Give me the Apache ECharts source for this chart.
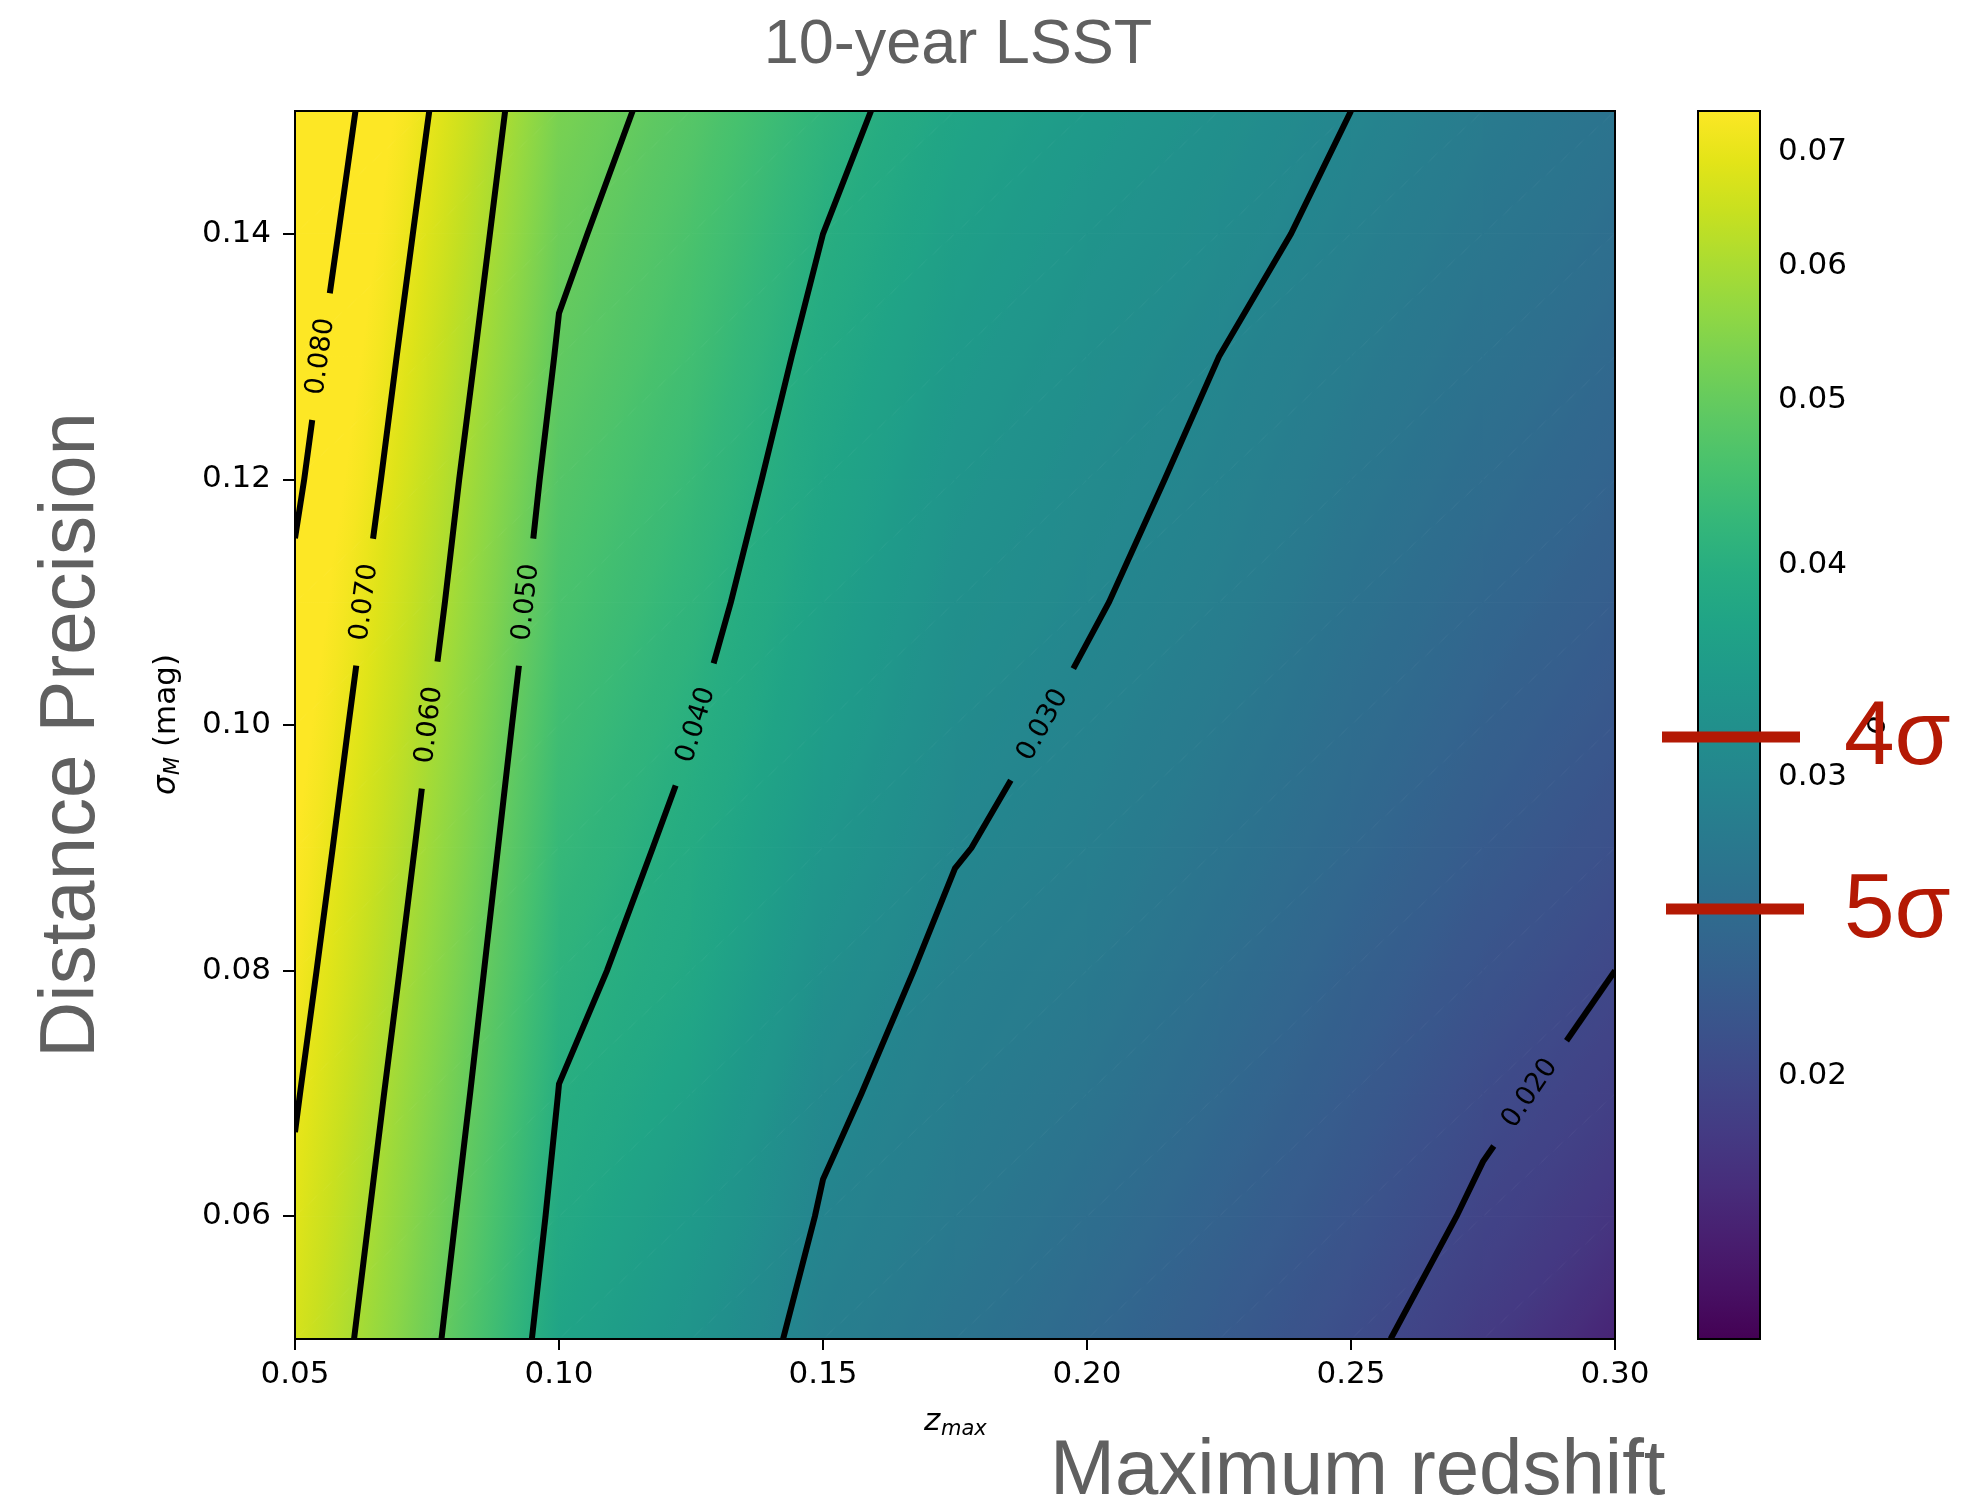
<!DOCTYPE html>
<html><head><meta charset="utf-8">
<script src="https://cdn.jsdelivr.net/npm/echarts@6/dist/echarts.min.js"></script>
<style>html,body{margin:0;padding:0;background:#fff}#chart{width:1988px;height:1510px}</style>
</head><body><div id="chart"></div>
<script>
// ---------------- data ----------------
const xGrid = [0.05, 0.075, 0.10, 0.125, 0.15, 0.175, 0.20, 0.225, 0.25, 0.275, 0.30];
const yGrid = [0.05, 0.06, 0.07, 0.08, 0.09, 0.10, 0.11, 0.12, 0.13, 0.14, 0.15];
// values on each row (sigma_M = yGrid[j]), one entry per zmax in xGrid
const row050 = [0.0668, 0.0516, 0.0370, 0.0330, 0.0287, 0.0265, 0.0244, 0.0225, 0.0206, 0.0186, 0.0165];
const row060 = [0.0687, 0.0532, 0.0385, 0.0346, 0.0297, 0.0275, 0.0255, 0.0235, 0.0216, 0.0196, 0.0180];
const row070 = [0.0706, 0.0549, 0.0399, 0.0362, 0.0307, 0.0283, 0.0266, 0.0245, 0.0225, 0.0205, 0.0191];
const row080 = [0.0726, 0.0567, 0.0412, 0.0379, 0.0322, 0.0290, 0.0276, 0.0255, 0.0234, 0.0215, 0.0200];
const row090 = [0.0746, 0.0585, 0.0427, 0.0389, 0.0337, 0.0302, 0.0286, 0.0265, 0.0244, 0.0225, 0.0210];
const row100 = [0.0766, 0.0603, 0.0443, 0.0402, 0.0352, 0.0312, 0.0294, 0.0275, 0.0253, 0.0234, 0.0219];
const row110 = [0.0787, 0.0622, 0.0460, 0.0416, 0.0363, 0.0322, 0.0303, 0.0285, 0.0262, 0.0243, 0.0228];
const row120 = [0.0812, 0.0640, 0.0476, 0.0430, 0.0374, 0.0333, 0.0310, 0.0293, 0.0271, 0.0252, 0.0237];
const row130 = [0.0834, 0.0660, 0.0494, 0.0445, 0.0386, 0.0345, 0.0320, 0.0300, 0.0280, 0.0261, 0.0246];
const row140 = [0.0858, 0.0681, 0.0511, 0.0460, 0.0400, 0.0358, 0.0332, 0.0312, 0.0290, 0.0270, 0.0255];
const row150 = [0.0882, 0.0703, 0.0529, 0.0477, 0.0416, 0.0372, 0.0345, 0.0322, 0.0300, 0.0279, 0.0264];
const Z = [row050, row060, row070, row080, row090, row100, row110, row120, row130, row140, row150];

const contourLevels = [0.02, 0.03, 0.04, 0.05, 0.06, 0.07, 0.08];
const contourLabelY = [0.070, 0.100, 0.100, 0.110, 0.100, 0.110, 0.130];
const xTicks = [0.05, 0.10, 0.15, 0.20, 0.25, 0.30];
const yTicks = [0.06, 0.08, 0.10, 0.12, 0.14];
const cbarTicks = [0.02, 0.03, 0.04, 0.05, 0.06, 0.07];
const cbarMin = 0.014, cbarMax = 0.074;

// ---------------- colour map ----------------
const viridis = ['#440154','#471164','#481F70','#472D7B','#443A83','#404688','#3B528B','#365D8D','#31688E','#2C728E','#287C8E','#24868E','#21908C','#1F9A8A','#20A486','#27AD81','#35B779','#47C16E','#5DC863','#75D054','#8FD744','#AADC32','#C7E020','#E3E418','#FDE725'];
const VIR = viridis.map(h => [parseInt(h.slice(1,3),16), parseInt(h.slice(3,5),16), parseInt(h.slice(5,7),16)]);
const LMIN = Math.log10(cbarMin), LMAX = Math.log10(cbarMax);
function colorT(t){
  t = Math.max(0, Math.min(1, t));
  const f = t * (VIR.length - 1);
  const k = Math.min(Math.floor(f), VIR.length - 2);
  const u = f - k, a = VIR[k], b = VIR[k+1];
  return 'rgb(' + [0,1,2].map(c => Math.round(a[c] + (b[c]-a[c])*u)).join(',') + ')';
}
function colorOf(v){ return colorT((Math.log10(v) - LMIN) / (LMAX - LMIN)); }

// ---------------- contours (marching squares) ----------------
function contourLinesFor(level){
  const segs = [];
  for (let j = 0; j < yGrid.length - 1; j++) for (let i = 0; i < xGrid.length - 1; i++){
    const v00 = Z[j][i], v10 = Z[j][i+1], v11 = Z[j+1][i+1], v01 = Z[j+1][i];
    const edges = [
      [v00, v10, [xGrid[i], yGrid[j]], [xGrid[i+1], yGrid[j]], 'h'+i+'_'+j],
      [v10, v11, [xGrid[i+1], yGrid[j]], [xGrid[i+1], yGrid[j+1]], 'v'+(i+1)+'_'+j],
      [v01, v11, [xGrid[i], yGrid[j+1]], [xGrid[i+1], yGrid[j+1]], 'h'+i+'_'+(j+1)],
      [v00, v01, [xGrid[i], yGrid[j]], [xGrid[i], yGrid[j+1]], 'v'+i+'_'+j]
    ];
    const cr = [];
    for (const [a, b, pa, pb, key] of edges){
      if ((a >= level) !== (b >= level)){
        const t = (level - a) / (b - a);
        cr.push({key, p: [pa[0] + t*(pb[0]-pa[0]), pa[1] + t*(pb[1]-pa[1])]});
      }
    }
    if (cr.length === 2) segs.push([cr[0], cr[1]]);
    else if (cr.length === 4){
      const c = (v00+v10+v11+v01)/4;
      if ((c >= level) === (v00 >= level)){ segs.push([cr[0], cr[1]]); segs.push([cr[2], cr[3]]); }
      else { segs.push([cr[0], cr[3]]); segs.push([cr[1], cr[2]]); }
    }
  }
  const byKey = {};
  segs.forEach((s, idx) => s.forEach(e => { (byKey[e.key] = byKey[e.key] || []).push(idx); }));
  const used = segs.map(() => false);
  const lines = [];
  const order = segs.map((s, idx) => idx).sort((a, b) => {
    const ea = Math.min(byKey[segs[a][0].key].length, byKey[segs[a][1].key].length);
    const eb = Math.min(byKey[segs[b][0].key].length, byKey[segs[b][1].key].length);
    return ea - eb;
  });
  for (const start of order){
    if (used[start]) continue;
    let s = segs[start];
    if (byKey[s[1].key].length === 1 && byKey[s[0].key].length !== 1) s = [s[1], s[0]];
    used[start] = true;
    const pts = [s[0].p, s[1].p];
    let key = s[1].key;
    while (true){
      const nxt = (byKey[key] || []).find(k => !used[k]);
      if (nxt === undefined) break;
      used[nxt] = true;
      let n = segs[nxt];
      if (n[0].key !== key) n = [n[1], n[0]];
      pts.push(n[1].p);
      key = n[1].key;
    }
    lines.push(pts);
  }
  return lines;
}
const contourLines = contourLevels.map(contourLinesFor);

function pointAt(pix, cum, s){
  for (let k = 0; k < pix.length - 1; k++){
    if (s <= cum[k+1] || k === pix.length - 2){
      const len = cum[k+1] - cum[k];
      const t = len > 0 ? (s - cum[k]) / len : 0;
      return {k, p: [pix[k][0] + t*(pix[k+1][0]-pix[k][0]), pix[k][1] + t*(pix[k+1][1]-pix[k][1])]};
    }
  }
}
function cutLabel(pts, pix, ay, half){
  const cum = [0];
  for (let k = 1; k < pix.length; k++) cum.push(cum[k-1] + Math.hypot(pix[k][0]-pix[k-1][0], pix[k][1]-pix[k-1][1]));
  for (let k = 0; k < pts.length - 1; k++){
    const y0 = pts[k][1], y1 = pts[k+1][1];
    if (y0 === y1) continue;
    if ((y0 - ay) * (y1 - ay) <= 0){
      const t = (ay - y0) / (y1 - y0);
      const sA = cum[k] + t * (cum[k+1] - cum[k]);
      const a = pointAt(pix, cum, Math.max(0, sA - half));
      const b = pointAt(pix, cum, Math.min(cum[cum.length-1], sA + half));
      const mid = pointAt(pix, cum, sA);
      const part1 = pix.slice(0, a.k + 1).concat([a.p]);
      const part2 = [b.p].concat(pix.slice(b.k + 1));
      let dx = b.p[0] - a.p[0], dy = b.p[1] - a.p[1];
      if (dx < 0){ dx = -dx; dy = -dy; }
      return {parts: [part1, part2], x: mid.p[0], y: mid.p[1], angle: Math.atan2(-dy, dx)};
    }
  }
  return null;
}

// ---------------- shading of the grid (value interpolated in each triangle) ----------------
function triFill(P, V){
  const [x0, y0] = P[0], [x1, y1] = P[1], [x2, y2] = P[2];
  const det = (x1-x0)*(y2-y0) - (x2-x0)*(y1-y0);
  const gx = ((V[1]-V[0])*(y2-y0) - (V[2]-V[0])*(y1-y0)) / det;
  const gy = ((x1-x0)*(V[2]-V[0]) - (x2-x0)*(V[1]-V[0])) / det;
  const vmin = Math.min(...V), vmax = Math.max(...V);
  const g2 = gx*gx + gy*gy;
  if (vmax - vmin < 1e-12 || !isFinite(g2) || g2 === 0) return colorOf(V[0]);
  const sx = x0 + (vmin - V[0]) * gx / g2, sy = y0 + (vmin - V[0]) * gy / g2;
  const ex = x0 + (vmax - V[0]) * gx / g2, ey = y0 + (vmax - V[0]) * gy / g2;
  const N = 8, stops = [];
  for (let k = 0; k <= N; k++) stops.push({offset: k/N, color: colorOf(vmin + (vmax - vmin) * k / N)});
  return new echarts.graphic.LinearGradient(sx, sy, ex, ey, stops, true);
}
const cellData = [];
for (let j = 0; j < yGrid.length - 1; j++) for (let i = 0; i < xGrid.length - 1; i++) cellData.push([xGrid[i], yGrid[j], i, j]);

const RED = '#b41904';
const GRAY = '#606060';
const tickFont = 'DejaVu Sans';

const chart = echarts.init(document.getElementById('chart'), null, {renderer: 'canvas'});
chart.setOption({
  animation: false,
  backgroundColor: '#ffffff',
  grid: [
    {left: 295, top: 111, width: 1320, height: 1228, outerBoundsMode: 'none'},
    {left: 1698, top: 111, width: 62, height: 1228, outerBoundsMode: 'none'}
  ],
  xAxis: [
    {gridIndex: 0, type: 'value', min: 0.05, max: 0.30,
     axisLine: {show: false}, splitLine: {show: false},
     axisTick: {show: true, length: 11, customValues: xTicks, lineStyle: {color: '#000', width: 2}},
     axisLabel: {customValues: xTicks, formatter: v => v.toFixed(2), fontSize: 31, fontFamily: tickFont, color: '#000', margin: 20}},
    {gridIndex: 1, type: 'value', min: 0, max: 1, show: false}
  ],
  yAxis: [
    {gridIndex: 0, type: 'value', min: 0.05, max: 0.15,
     axisLine: {show: false}, splitLine: {show: false},
     axisTick: {show: true, length: 12, customValues: yTicks, lineStyle: {color: '#000', width: 2}},
     axisLabel: {customValues: yTicks, formatter: v => v.toFixed(2), fontSize: 31, fontFamily: tickFont, color: '#000', margin: 24}},
    {gridIndex: 1, type: 'value', position: 'right', min: LMIN, max: LMAX,
     axisLine: {show: false}, splitLine: {show: false},
     axisTick: {show: true, length: 7, customValues: cbarTicks.map(v => Math.log10(v)), lineStyle: {color: '#000', width: 2}},
     axisLabel: {customValues: cbarTicks.map(v => Math.log10(v)), formatter: v => Math.pow(10, v).toFixed(2), fontSize: 31, fontFamily: tickFont, color: '#000', margin: 18}}
  ],
  series: [
    {type: 'custom', xAxisIndex: 0, yAxisIndex: 0, clip: true, silent: true, z: 1,
     encode: {x: 0, y: 1}, data: cellData,
     renderItem: (params, api) => {
       const i = api.value(2), j = api.value(3);
       const p00 = api.coord([xGrid[i], yGrid[j]]), p10 = api.coord([xGrid[i+1], yGrid[j]]);
       const p11 = api.coord([xGrid[i+1], yGrid[j+1]]), p01 = api.coord([xGrid[i], yGrid[j+1]]);
       const v00 = Z[j][i], v10 = Z[j][i+1], v11 = Z[j+1][i+1], v01 = Z[j+1][i];
       const f1 = triFill([p00, p10, p11], [v00, v10, v11]);
       const f2 = triFill([p00, p11, p01], [v00, v11, v01]);
       return {type: 'group', children: [
         {type: 'polygon', shape: {points: [p00, p10, p11]}, style: {fill: f1, stroke: f1, lineWidth: 1}},
         {type: 'polygon', shape: {points: [p00, p11, p01]}, style: {fill: f2, stroke: f2, lineWidth: 1}}
       ]};
     }},
    {type: 'custom', xAxisIndex: 0, yAxisIndex: 0, clip: true, silent: true, z: 5,
     encode: {x: 0, y: 1}, data: [[0.05, 0.05]],
     renderItem: (params, api) => {
       const children = [];
       contourLevels.forEach((L, li) => {
         let labeled = false;
         contourLines[li].forEach(pts => {
           const pix = pts.map(p => api.coord(p));
           let parts = [pix];
           if (!labeled){
             const res = cutLabel(pts, pix, contourLabelY[li], 64);
             if (res){
               parts = res.parts; labeled = true;
               children.push({type: 'text', x: res.x, y: res.y, rotation: res.angle,
                 style: {text: L.toFixed(3), fontSize: 27, fontFamily: tickFont, fill: '#000', align: 'center', verticalAlign: 'middle'}});
             }
           }
           parts.forEach(pp => { if (pp.length > 1) children.push({type: 'polyline', shape: {points: pp}, style: {stroke: '#000', lineWidth: 6, fill: null, lineJoin: 'miter'}}); });
         });
       });
       return {type: 'group', children};
     }},
    {type: 'custom', xAxisIndex: 0, yAxisIndex: 0, clip: false, silent: true, z: 8,
     encode: {x: 0, y: 1}, data: [[0.05, 0.05]],
     renderItem: (params, api) => {
       const a = api.coord([0.05, 0.15]), b = api.coord([0.30, 0.05]);
       return {type: 'rect', shape: {x: a[0], y: a[1], width: b[0]-a[0], height: b[1]-a[1]}, style: {fill: null, stroke: '#000', lineWidth: 2}};
     }},
    {type: 'custom', xAxisIndex: 1, yAxisIndex: 1, clip: false, silent: true, z: 1,
     encode: {x: 0, y: 1}, data: [[0, LMIN]],
     renderItem: (params, api) => {
       const a = api.coord([0, LMAX]), b = api.coord([1, LMIN]);
       const stops = VIR.map((c, k) => ({offset: k/(VIR.length-1), color: viridis[VIR.length-1-k]}));
       return {type: 'group', children: [
         {type: 'rect', shape: {x: a[0], y: a[1], width: b[0]-a[0], height: b[1]-a[1]},
          style: {fill: new echarts.graphic.LinearGradient(0, 0, 0, 1, stops), stroke: '#000', lineWidth: 2}}
       ]};
     }}
  ],
  graphic: [
    {type: 'text', x: 958, y: 46, z: 10, style: {text: '10-year LSST', fontSize: 63, fontFamily: 'Liberation Sans', fill: GRAY, align: 'center', verticalAlign: 'middle'}},
    {type: 'text', x: 1050, y: 1472, z: 10, style: {text: 'Maximum redshift', fontSize: 78, fontFamily: 'Liberation Sans', fill: GRAY, align: 'left', verticalAlign: 'middle'}},
    {type: 'text', x: 72, y: 735, rotation: Math.PI/2, z: 10, style: {text: 'Distance Precision', fontSize: 78, fontFamily: 'Liberation Sans', fill: GRAY, align: 'center', verticalAlign: 'middle'}},
    {type: 'group', x: 167, y: 725, rotation: Math.PI/2, z: 10, children: [
      {type: 'text', x: -70, y: 0, style: {text: 'σ', fontSize: 31, fontStyle: 'italic', fontFamily: tickFont, fill: '#000', align: 'left', verticalAlign: 'middle'}},
      {type: 'text', x: -50, y: 7, style: {text: 'M', fontSize: 21, fontStyle: 'italic', fontFamily: tickFont, fill: '#000', align: 'left', verticalAlign: 'middle'}},
      {type: 'text', x: -22, y: 0, style: {text: '(mag)', fontSize: 31, fontFamily: tickFont, fill: '#000', align: 'left', verticalAlign: 'middle'}}
    ]},
    {type: 'group', x: 924, y: 1422, z: 10, children: [
      {type: 'text', x: 0, y: 0, style: {text: 'z', fontSize: 31, fontStyle: 'italic', fontFamily: tickFont, fill: '#000', align: 'left', verticalAlign: 'middle'}},
      {type: 'text', x: 17, y: 8, style: {text: 'max', fontSize: 21, fontStyle: 'italic', fontFamily: tickFont, fill: '#000', align: 'left', verticalAlign: 'middle'}}
    ]},
    {type: 'text', x: 1877, y: 725, rotation: Math.PI/2, z: 20, style: {text: 'σ', fontSize: 31, fontStyle: 'italic', fontFamily: tickFont, fill: '#000', align: 'center', verticalAlign: 'middle'}},
    {type: 'line', z: 100, shape: {x1: 1662, y1: 737, x2: 1800, y2: 737}, style: {stroke: RED, lineWidth: 11}},
    {type: 'line', z: 100, shape: {x1: 1666, y1: 909, x2: 1804, y2: 909}, style: {stroke: RED, lineWidth: 11}},
    {type: 'text', x: 1844, y: 739, z: 100, style: {text: '4σ', fontSize: 91, fontFamily: 'Liberation Sans', fill: RED, align: 'left', verticalAlign: 'middle'}},
    {type: 'text', x: 1844, y: 912, z: 100, style: {text: '5σ', fontSize: 91, fontFamily: 'Liberation Sans', fill: RED, align: 'left', verticalAlign: 'middle'}}
  ]
});
</script>
</body></html>
